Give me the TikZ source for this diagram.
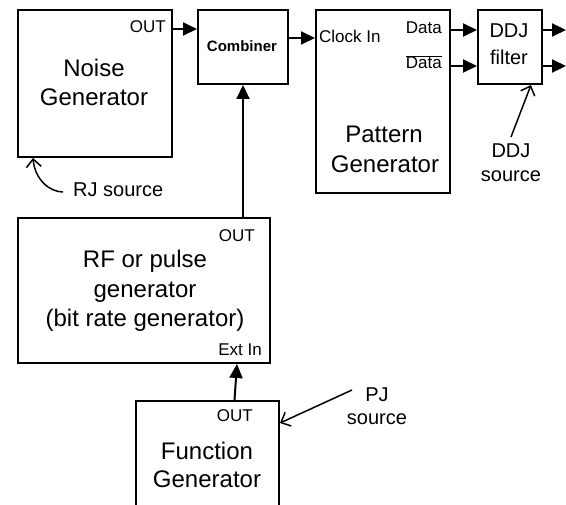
\documentclass[tikz,border=0pt]{standalone}
\usepackage{fontspec}
\setmainfont{Liberation Sans}
\usetikzlibrary{arrows.meta}
\begin{document}
\begin{tikzpicture}[x=1pt,y=-1pt,
  box/.style={draw, line width=2pt, inner sep=0pt, anchor=north west},
  big/.style={inner sep=0pt, anchor=base, font=\fontsize{24}{29}\selectfont},
  mid/.style={inner sep=0pt, anchor=base, font=\fontsize{20}{24}\selectfont},
  small/.style={inner sep=0pt, anchor=base east, font=\fontsize{17}{20}\selectfont},
  combtxt/.style={inner sep=0pt, anchor=base, font=\fontsize{15}{18}\selectfont\bfseries},
  arr/.style={line width=2pt, -{Triangle[length=14pt,width=13pt]}},
  barb/.style={line width=1.5pt, -{Straight Barb[length=8pt,width=15pt]}}
]
\useasboundingbox (0,0) rectangle (566,505);
\clip (0,0) rectangle (566,505);

% boxes
\node[box, minimum width=154pt, minimum height=147pt] (noise) at (17,9) {};
\node[box, minimum width=90pt, minimum height=74pt] (comb) at (197,9) {};
\node[box, minimum width=134pt, minimum height=183pt] (pat) at (315,9) {};
\node[box, minimum width=64pt, minimum height=74pt] (ddj) at (477,9) {};
\node[box, minimum width=252pt, minimum height=145pt] (rf) at (17,217) {};
\node[box, minimum width=143pt, minimum height=130pt] (func) at (135,400) {};

% texts
\node[small] (noiseout) at (166,33) {OUT};
\node[big] (noiseA) at (94,77) {Noise};
\node[big] (noiseB) at (94,106) {Generator};
\node[combtxt] (combt) at (242,52) {Combiner};
\node[small, anchor=base west] (clkin) at (319,43) {Clock In};
\node[small] (data) at (442,34) {Data};
\node[small] (datab) at (442,69) {$\overline{\mbox{Data}}$};
\node[big] (patA) at (384,143) {Pattern};
\node[big] (patB) at (385,173) {Generator};
\node[mid] (ddjA) at (509,38) {DDJ};
\node[mid] (ddjB) at (509,65) {filter};
\node[mid] (ddjsA) at (511,158) {DDJ};
\node[mid] (ddjsB) at (511,182) {source};
\node[mid, anchor=base west] (rjs) at (73,197) {RJ source};
\node[small] (rfout) at (255,242) {OUT};
\node[big] (rfA) at (145,268) {RF or pulse};
\node[big] (rfB) at (145,298) {generator};
\node[big] (rfC) at (145,327) {(bit rate generator)};
\node[small] (extin) at (262,356) {Ext In};
\node[small] (funcout) at (253,422) {OUT};
\node[big] (funcA) at (207,460) {Function};
\node[big] (funcB) at (207,488) {Generator};
\node[mid] (pjA) at (377,402) {PJ};
\node[mid] (pjB) at (377,425) {source};

% connectors
\coordinate (o1) at (566,30);
\coordinate (o2) at (566,66);
\coordinate (pjstart) at (352,390);
\coordinate (ddjstart) at (511,137);
\coordinate (rjstart) at (63,192);

\draw[arr] ([yshift=-20pt]noise.north east) -- ([yshift=-20pt]comb.north west);
\draw[arr] ([yshift=-29pt]comb.north east) -- ([yshift=-29pt]pat.north west);
\draw[arr] ([yshift=-21pt]pat.north east) -- ([yshift=-21pt]ddj.north west);
\draw[arr] ([yshift=-57pt]pat.north east) -- ([yshift=-57pt]ddj.north west);
\draw[arr] ([yshift=-21pt]ddj.north east) -- (o1);
\draw[arr] ([yshift=-57pt]ddj.north east) -- (o2);
\draw[arr] (comb.south |- rf.north) -- (comb.south);
\draw[arr] ([xshift=27pt]func.north) -- ([xshift=93pt]rf.south);
\draw[barb] (pjstart) -- ([yshift=-23pt]func.north east);
\draw[barb] (ddjstart) -- ([xshift=21pt]ddj.south);
\draw[barb] (rjstart) .. controls (50,192) and (35,180) .. ([xshift=16pt]noise.south west);
\end{tikzpicture}
\end{document}
